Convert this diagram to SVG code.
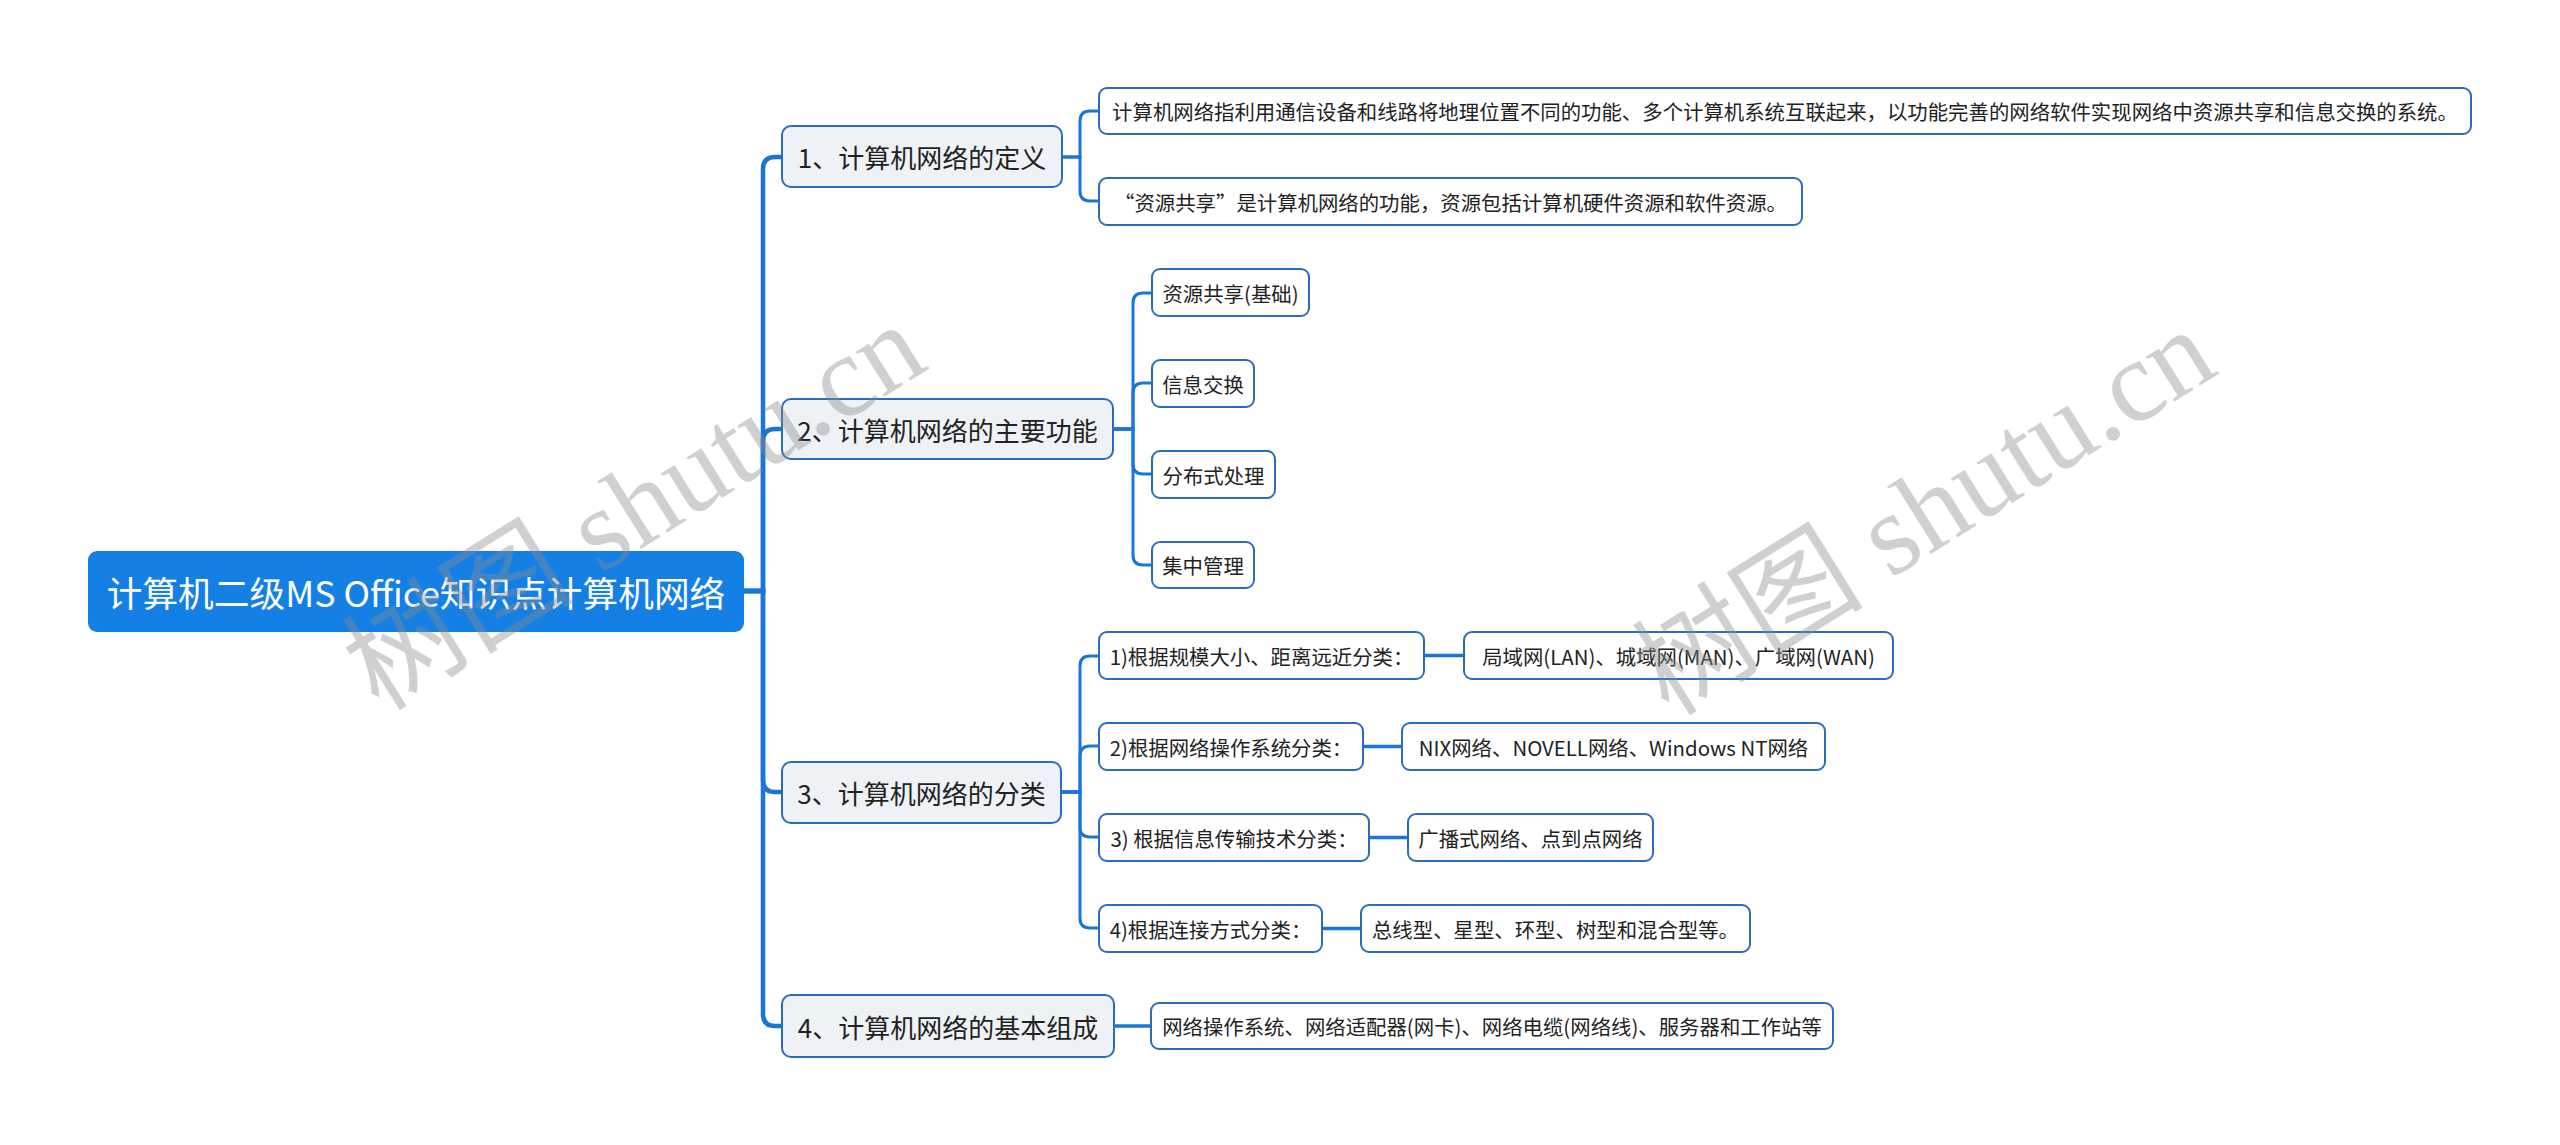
<svg xmlns="http://www.w3.org/2000/svg" width="2560" height="1145" viewBox="0 0 2560 1145">
<style>
.bg{fill:#ffffff}
.root rect{fill:#1480e6}
.root text{fill:#ffffff;font-size:35.7px}
.l1 rect{fill:#eef2f7;stroke:#2c6dbb;stroke-width:2}
.l1 text{fill:#222222;font-size:26px}
.l2 rect{fill:#ffffff;stroke:#2c6dbb;stroke-width:2}
.l2 text{fill:#222222;font-size:20.4px}
text{font-family:"Noto Sans CJK SC","Noto Sans",sans-serif;text-anchor:middle;dominant-baseline:central}
.c{fill:none;stroke:#1a76d6;stroke-linecap:butt}
.trunk{stroke-width:4.5}
.br{stroke-width:3}
.lk{stroke-width:3.5}
.wm{font-family:"Liberation Serif","Noto Sans CJK SC",serif;font-size:116px;fill:#8c8c8c;opacity:0.4;dominant-baseline:auto}
</style>
<rect class="bg" x="0" y="0" width="2560" height="1145"/>
<g id="connectors">
<path class="c trunk" d="M744,591 H763 V169 Q763,157 775,157 H782"/>
<path class="c trunk" d="M744,591 H763 V441 Q763,429 775,429 H782"/>
<path class="c trunk" d="M744,591 H763 V780 Q763,792 775,792 H782"/>
<path class="c trunk" d="M744,591 H763 V1014 Q763,1026 775,1026 H782"/>
<path class="c br" d="M1062,157 H1080 V121 Q1080,111 1090,111 H1099"/>
<path class="c br" d="M1062,157 H1080 V191 Q1080,201 1090,201 H1099"/>
<path class="c br" d="M1113,429 H1133 V303 Q1133,293 1143,293 H1152"/>
<path class="c br" d="M1113,429 H1133 V393 Q1133,383 1143,383 H1152"/>
<path class="c br" d="M1113,429 H1133 V464 Q1133,474 1143,474 H1152"/>
<path class="c br" d="M1113,429 H1133 V555 Q1133,565 1143,565 H1152"/>
<path class="c br" d="M1061,792 H1080 V666 Q1080,656 1090,656 H1099"/>
<path class="c br" d="M1061,792 H1080 V756 Q1080,746 1090,746 H1099"/>
<path class="c br" d="M1061,792 H1080 V827 Q1080,837 1090,837 H1099"/>
<path class="c br" d="M1061,792 H1080 V918 Q1080,928 1090,928 H1099"/>
<path class="c lk" d="M1114,1026 H1151"/>
<path class="c lk" d="M1424,655.5 H1464"/>
<path class="c lk" d="M1363,746.5 H1402"/>
<path class="c lk" d="M1369,837.5 H1408"/>
<path class="c lk" d="M1322,928.5 H1361"/>
</g>
<g id="root" class="root"><rect x="88" y="551" width="656" height="81" rx="9"/><text x="416" y="591.5">计算机二级MS Office知识点计算机网络</text></g>
<g id="n1" class="l1"><rect x="782" y="126" width="280" height="61" rx="9"/><text x="922" y="156.5">1、计算机网络的定义</text></g>
<g id="n2" class="l1"><rect x="782" y="399" width="331" height="60" rx="9"/><text x="947.5" y="429">2、计算机网络的主要功能</text></g>
<g id="n3" class="l1"><rect x="782" y="762" width="279" height="61" rx="9"/><text x="921.5" y="792.5">3、计算机网络的分类</text></g>
<g id="n4" class="l1"><rect x="782" y="995" width="332" height="62" rx="9"/><text x="948" y="1026">4、计算机网络的基本组成</text></g>
<g id="a1" class="l2"><rect x="1099" y="88" width="1372" height="46" rx="8"/><text x="1785" y="111">计算机网络指利用通信设备和线路将地理位置不同的功能、多个计算机系统互联起来，以功能完善的网络软件实现网络中资源共享和信息交换的系统。</text></g>
<g id="a2" class="l2"><rect x="1099" y="178" width="703" height="47" rx="8"/><text x="1450.5" y="201.5">“资源共享”是计算机网络的功能，资源包括计算机硬件资源和软件资源。</text></g>
<g id="b1" class="l2"><rect x="1152" y="269" width="157" height="47" rx="8"/><text x="1230.5" y="292.5">资源共享(基础)</text></g>
<g id="b2" class="l2"><rect x="1152" y="360" width="102" height="47" rx="8"/><text x="1203" y="383.5">信息交换</text></g>
<g id="b3" class="l2"><rect x="1152" y="451" width="123" height="47" rx="8"/><text x="1213.5" y="474.5">分布式处理</text></g>
<g id="b4" class="l2"><rect x="1152" y="542" width="102" height="46" rx="8"/><text x="1203" y="565">集中管理</text></g>
<g id="c1" class="l2"><rect x="1099" y="632" width="325" height="47" rx="8"/><text x="1261.5" y="655.5">1)根据规模大小、距离远近分类：</text></g>
<g id="c2" class="l2"><rect x="1099" y="723" width="264" height="47" rx="8"/><text x="1231" y="746.5">2)根据网络操作系统分类：</text></g>
<g id="c3" class="l2"><rect x="1099" y="814" width="270" height="47" rx="8"/><text x="1234" y="837.5">3) 根据信息传输技术分类：</text></g>
<g id="c4" class="l2"><rect x="1099" y="905" width="223" height="47" rx="8"/><text x="1210.5" y="928.5">4)根据连接方式分类：</text></g>
<g id="c1b" class="l2"><rect x="1464" y="632" width="429" height="47" rx="8"/><text x="1678.5" y="655.5">局域网(LAN)、城域网(MAN)、广域网(WAN)</text></g>
<g id="c2b" class="l2"><rect x="1402" y="723" width="423" height="47" rx="8"/><text x="1613.5" y="746.5">NIX网络、NOVELL网络、Windows NT网络</text></g>
<g id="c3b" class="l2"><rect x="1408" y="814" width="245" height="47" rx="8"/><text x="1530.5" y="837.5">广播式网络、点到点网络</text></g>
<g id="c4b" class="l2"><rect x="1361" y="905" width="389" height="47" rx="8"/><text x="1555.5" y="928.5">总线型、星型、环型、树型和混合型等。</text></g>
<g id="d1" class="l2"><rect x="1151" y="1003" width="682" height="46" rx="8"/><text x="1492" y="1026">网络操作系统、网络适配器(网卡)、网络电缆(网络线)、服务器和工作站等</text></g>
<g id="watermark">
<text class="wm" transform="translate(655,540) rotate(-32)">树图 shutu.cn</text>
<text class="wm" transform="translate(1945,545) rotate(-32)">树图 shutu.cn</text>
</g>
</svg>
